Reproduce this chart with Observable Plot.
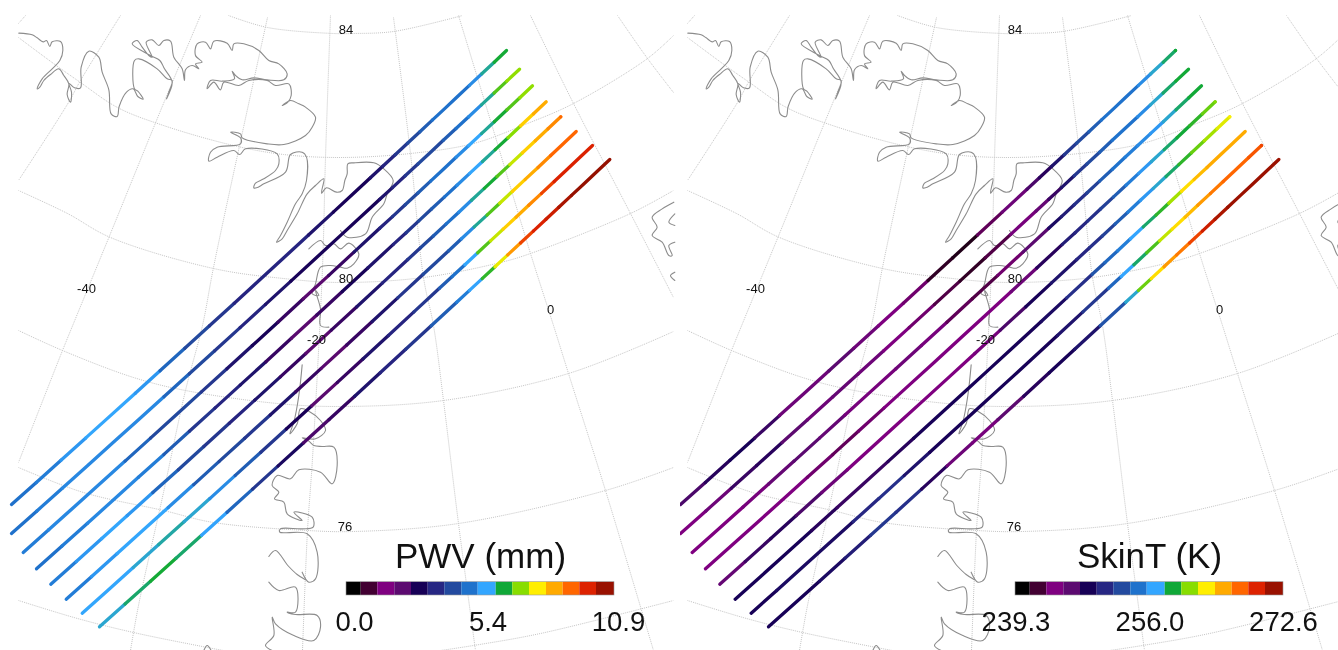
<!DOCTYPE html>
<html>
<head>
<meta charset="utf-8">
<script src="https://cdn.jsdelivr.net/npm/d3@7"></script>
<script src="https://cdn.jsdelivr.net/npm/@observablehq/plot@0.6"></script>
<style>
html,body{margin:0;padding:0;background:#fff;width:1338px;height:650px;overflow:hidden}
#chart{display:flex;width:1338px;height:650px}
#chart svg{display:block;flex:none;filter:blur(0.5px)}
</style>
</head>
<body>
<div id="chart"></div>
<script>
// colour bar
const palette = ["#000000","#420032","#7f0080","#5c0a70","#170056","#272783","#234a9f","#1f72cc","#33a6ff","#10a838","#88dd00","#ffee00","#ffaa00","#ff6600","#dd2200","#991100"];
const pwvRange = [0.0, 10.9];
const skinRange = [239.3, 272.6];

// flight tracks: positions in map units, south-west to north-east
const t1x = [11,35.8,60.5,85.3,110,134.8,159.5,184.3,209,233.8,258.5,283.3,308,332.8,357.5,369.9,382.3,394.7,407,419.4,431.8,444.2,456.5,468.9,481.3,493.7,506];
const t1y = [504,481.9,459.7,437.4,415.1,392.8,370.3,347.8,325.3,302.7,280,257.3,234.5,211.6,188.7,177.3,165.8,154.3,142.7,131.2,119.6,108.1,96.5,84.9,73.3,61.7,50];
const t2x = [11,36.4,61.8,87.2,112.6,138,163.4,188.8,214.2,239.6,265,290.4,315.8,341.2,366.6,379.3,392,404.7,417.4,430.1,442.8,455.5,468.2,480.9,493.6,506.3,519];
const t2y = [533,510.4,487.7,464.9,442,419.2,396.2,373.2,350.2,327.1,303.9,280.6,257.3,233.9,210.5,198.8,187.1,175.3,163.5,151.7,139.8,128,116.2,104.4,92.5,80.6,68.7];
const t3x = [22.7,48.2,73.6,99.1,124.6,150,175.5,200.9,226.4,251.9,277.4,302.8,328.3,353.7,379.2,392,404.7,417.4,430.1,442.9,455.6,468.3,481,493.8,506.5,519.3,532];
const t3y = [552,529.3,506.4,483.5,460.6,437.6,414.5,391.4,368.2,345,321.7,298.3,274.9,251.4,227.8,216.1,204.3,192.5,180.6,168.7,156.8,145,133.1,121.2,109.3,97.3,85.3];
const t4x = [36,61.5,87,112.5,137.9,163.4,188.9,214.4,239.9,265.4,290.9,316.3,341.8,367.3,392.8,405.6,418.3,431,443.8,456.5,469.2,482,494.7,507.5,520.2,533,545.7];
const t4y = [568.3,545.6,522.7,499.8,476.8,453.9,430.7,407.6,384.4,361.2,337.8,314.5,291,267.5,243.9,232.2,220.4,208.5,196.6,184.8,172.9,161,149.1,137.2,125.3,113.3,101.3];
const t5x = [50.3,75.8,101.3,126.8,152.3,177.8,203.3,228.8,254.3,279.8,305.3,330.8,356.3,381.8,407.3,420,432.8,445.5,458.3,471,483.8,496.5,509.3,522,534.8,547.5,560.3];
const t5y = [583.7,560.9,538.1,515.1,492.1,469.2,446,422.8,399.6,376.4,353,329.6,306.2,282.6,259,247.3,235.5,223.6,211.7,199.8,187.9,176,164.1,152.2,140.3,128.3,116.3];
const t6x = [65.7,91.2,116.7,142.2,167.7,193.2,218.7,244.2,269.7,295.2,320.7,346.2,371.7,397.2,422.7,435.5,448.2,461,473.7,486.5,499.2,512,524.7,537.5,550.2,563,575.7];
const t6y = [598.7,575.9,553,530,507.1,484.1,460.9,437.7,414.5,391.2,367.9,344.5,321,297.4,273.8,262,250.2,238.3,226.4,214.6,202.7,190.8,178.9,167,155,143,131];
const t7x = [81.7,107.2,132.7,158.2,183.8,209.3,234.8,260.3,285.8,311.3,336.9,362.4,387.9,413.4,438.9,451.7,464.4,477.2,490,502.7,515.5,528.2,541,553.7,566.5,579.2,592];
const t7y = [612.7,589.9,567,544,521.1,498.1,474.9,451.7,428.5,405.2,381.9,358.5,335,311.4,287.8,276,264.2,252.3,240.4,228.6,216.7,204.8,192.9,181,169,157,145];
const t8x = [99,124.5,150,175.5,201.1,226.6,252.1,277.6,303.1,328.6,354.2,379.7,405.2,430.7,456.2,469,481.7,494.5,507.2,520,532.8,545.5,558.3,571,583.8,596.5,609.3];
const t8y = [626.3,603.5,580.7,557.7,534.7,511.8,488.6,465.4,442.3,419,395.7,372.3,348.8,325.3,301.7,289.9,278.1,266.3,254.4,242.5,230.6,218.7,206.8,194.9,183,171,159];

// precipitable water vapour along each track (mm)
const t1pwv = [5.1,5.1,5.4,5.8,5.8,5.8,5.4,4.4,4.4,3.7,3.7,3.7,3.7,3.1,3.1,3.1,3.7,3.7,4.4,4.4,5.1,5.1,5.1,5.1,5.8,6.5,6.5];
const t2pwv = [5.1,5.1,5.4,5.4,5.4,5.4,5.4,4.4,4.4,3.7,3.7,3.1,3.1,3.1,3.1,3.1,3.7,3.7,4.4,4.4,4.4,5.1,5.1,5.8,6.5,7.2,7.2];
const t3pwv = [5.1,5.4,5.4,5.4,5.4,4.4,4.4,4.4,3.7,3.1,3.1,2.4,2.4,3.1,3.7,3.7,4.4,4.4,5.1,5.1,5.1,5.8,5.8,6.5,6.5,7.2,7.2];
const t4pwv = [5.1,5.1,5.4,5.4,5.4,5.1,4.4,3.7,3.7,3.1,2.4,2.4,3.1,3.1,3.7,3.7,4.4,4.4,5.1,5.1,5.8,5.8,6.5,6.5,7.8,8.5,8.5];
const t5pwv = [5.1,5.4,5.8,5.8,5.4,4.4,4.4,3.7,3.7,3.1,2.4,2.4,3.1,3.7,3.7,4.4,4.4,5.1,5.1,5.8,6.5,6.5,7.2,7.8,8.5,8.5,9.2];
const t6pwv = [5.1,5.4,5.8,5.8,5.8,5.1,4.4,4.4,3.7,3.1,2.4,2.4,3.1,3.7,4.4,4.4,4.4,5.1,5.8,6.5,7.2,7.8,8.5,8.5,9.2,9.2,9.2];
const t7pwv = [5.8,5.8,5.8,6.1,6.1,5.8,5.1,4.4,3.7,2.4,2.4,3.1,3.7,3.7,4.4,5.1,5.1,6.5,7.2,7.8,8.5,8.5,9.2,9.9,9.9,9.9,9.9];
const t8pwv = [5.8,6.1,6.5,6.5,6.1,5.4,4.4,3.7,2.7,2.4,3.1,3.7,3.7,4.4,5.1,5.4,6.1,7.2,8.2,9.2,9.9,9.9,10.2,10.6,10.6,10.6,10.6];

// skin temperature along each track (K)
const t1skin = [246.6,247.6,248.7,248.7,246.6,244.5,246.6,246.6,244.5,244.5,243.5,240.3,242.4,244.5,246.6,247.6,248.7,250.7,252.8,252.8,254.9,254.9,254.9,254.9,257,258,259.1];
const t2skin = [244.5,244.5,246.6,248.7,247.6,245.5,245.5,246.6,244.5,244.5,243.5,242.4,241.4,244.5,245.5,246.6,248.7,250.7,252.8,252.8,254.9,254.9,254.9,257,258,259.1,259.1];
const t3skin = [244.5,244.5,244.5,245.5,246.6,246.6,245.5,244.5,245.5,245.5,244.5,242.4,243.5,244.5,248.7,249.7,250.7,251.8,252.8,254.9,254.9,255.9,255.9,257,258,259.1,259.1];
const t4skin = [244.5,244.5,244.5,244.5,244.5,243.5,243.5,244.5,244.5,244.5,244.5,244.5,244.5,246.6,249.7,250.7,250.7,251.8,252.8,254.9,255.9,257,258,259.1,259.1,260.1,261.1];
const t5skin = [245.5,246.6,248.7,247.6,246.6,244.5,244.5,244.5,244.5,244.5,244.5,245.5,248.7,248.7,250.7,250.7,251.8,252.8,254.9,255.9,257,258,259.1,260.1,261.1,262.2,263.2];
const t6skin = [248.7,248.7,248.7,248.7,247.6,247.6,247.6,248.7,248.7,248.7,248.7,248.7,248.7,249.7,252.8,253.9,254.9,255.9,258,259.1,260.1,263.2,264.3,265.3,265.3,265.3,265.3];
const t7skin = [248.7,248.7,249.7,248.7,249.7,251.8,250.7,248.7,248.7,248.7,248.7,248.7,248.7,250.7,252.8,255.9,258,259.1,261.1,263.2,264.3,265.3,266.3,267.4,267.4,267.4,268.4];
const t8skin = [248.7,248.7,248.7,249.7,250.7,252.8,249.7,246.6,244.5,245.5,247.6,248.7,248.7,250.7,255.9,259.1,262.2,265.3,266.3,267.4,269.5,270.5,271.5,271.5,271.5,271.5,271.5];

// graticule, in map units
const parallels = [
  [[228,15],[267,27],[333,33],[353,33],[393,31],[462,15]],
  [[18,37],[53,63],[80,82],[117,107],[163,125],[233,145],[283,154],[340,157],[410,153],[473,143],[527,123],[573,103],[647,58],[673,35]],
  [[18,190],[67,213],[110,237],[213,268],[283,278],[340,282],[423,277],[500,262],[530,253],[630,213],[673,190]],
  [[18,330],[62,350],[133,377],[185,390],[277,403],[340,406],[443,400],[568,373],[673,331]],
  [[18,467],[83,492],[163,510],[213,522],[307,530],[353,531],[458,523],[605,490],[673,467]],
  [[18,600],[77,618],[133,632],[207,647],[250,655]],
  [[440,650],[473,645],[540,633],[673,600]]
];
const meridians = [
  [[25,15],[18,23]],
  [[120,15],[80,80],[68,102],[18,180]],
  [[200,15],[163,103],[110,233],[73,323],[62,350],[18,462]],
  [[267,17],[243,127],[213,267],[202,325],[185,390],[163,492],[138,605],[130,650]],
  [[330,15],[325,157],[322,267],[312,458],[307,530],[302,650]],
  [[393,17],[410,153],[423,277],[433,325],[443,400],[458,523],[475,650]],
  [[458,15],[493,130],[530,253],[553,325],[568,373],[605,490],[653,650]],
  [[530,15],[573,103],[630,213],[673,297]],
  [[617,15],[647,58],[673,92]]
];

// coastline, traced at three times map resolution
const coastA = [[55,98],[95,103],[110,112],[128,124],[138,120],[148,138],[155,124],[180,123],[187,150],[178,180],[155,205],[125,235],[110,265],[118,260],[130,240],[150,222],[175,205],[190,225],[205,250],[200,282],[210,305],[213,275],[205,248],[222,262],[240,262],[242,200],[265,152],[295,170],[305,215],[325,268],[332,340],[350,348],[356,318],[378,275],[398,265],[412,288],[428,296],[412,272],[402,265],[402,180],[415,175],[470,205],[500,235],[515,240],[505,275],[498,295],[515,245],[492,205],[478,180],[450,165],[395,130],[410,120],[425,140],[445,165],[455,170],[437,125],[455,118],[475,135],[490,120],[510,122],[520,170],[545,205],[552,240],[555,208],[575,195],[595,205],[585,190],[605,185],[585,165],[590,130],[615,125],[630,145],[640,122],[680,128],[695,150],[700,130],[730,130],[775,150],[805,180],[835,190],[860,220],[850,238],[800,238],[760,232],[725,238],[705,225],[695,212],[702,235],[665,242],[630,240],[620,265],[640,245],[660,268],[670,245],[715,255],[745,240],[800,240],[825,255],[865,250],[872,285],[862,305],[845,315],[870,300],[895,310],[915,320],[945,350],[935,380],[915,405],[850,432],[800,430],[725,412],[720,400],[690,395],[720,412],[720,430],[650,440],[630,455],[625,482],[650,470],[700,450],[718,462],[735,445],[830,460],[835,490],[825,510],[790,535],[765,548],[760,562],[768,562],[790,550],[855,515],[870,462],[905,455],[918,470],[918,540],[905,580],[885,610],[860,665],[840,705],[828,725],[845,715],[860,690],[890,640],[920,580],[945,555],[970,535],[963,578],[978,562],[1008,575],[1025,570],[1033,540],[1040,520],[1042,490],[1060,487],[1120,487],[1150,505],[1178,540],[1160,580],[1150,610],[1115,650],[1095,700],[1040,710],[1020,690]];
const coastB = [[925,745],[960,720],[975,735],[1000,730],[1020,745],[1045,728],[1075,760],[1060,790],[1040,803],[1020,800],[990,795],[960,800],[945,850],[935,880],[955,885],[945,870],[960,925],[960,975],[985,980]];
const coastC = [[905,1093],[895,1185],[880,1265],[868,1300],[890,1270],[900,1225],[925,1232],[960,1260],[975,1290],[945,1315],[905,1312],[925,1322],[940,1335],[965,1338],[1000,1340],[1010,1395],[995,1450],[960,1415],[895,1408],[870,1435],[830,1425],[815,1455],[835,1475],[822,1495],[850,1505],[860,1540],[905,1560],[880,1535],[935,1550],[938,1580],[905,1585],[840,1585],[838,1595],[920,1600],[950,1655],[945,1735],[925,1745],[905,1715]];
const coastD = [[805,1668],[825,1650],[862,1695],[890,1722],[915,1738]];
const coastE = [[805,1745],[835,1770],[885,1760],[885,1835],[860,1835],[885,1842],[950,1845],[960,1880],[940,1920],[880,1905],[825,1870],[815,1850],[820,1905],[795,1935],[815,1950]];
const coastF = [[2020,605],[1985,625],[1955,650],[1970,680],[1955,705],[1985,725],[2005,765],[2015,765],[2005,735],[2023,725]];
const coastG = [[2023,640],[2005,665],[2023,675]];
const coastH = [[2023,815],[2010,825],[2023,840]];
const coastI = [[610,1950],[620,1935],[632,1950]];

// graticule labels
const gridLabels = ["84","80","76","-40","-20","0"];
const gridLabelX = [345.5,345.5,344.5,86,316,550];
const gridLabelY = [29,278,526,288,339,309];

// colour bar layout, map units
const barEdges = [346,360.7,377.3,394.3,411,427.7,444.3,461.3,477.7,495.7,512.3,529,546,562.7,579.3,596,614];

const tracks = [
  [t1x,t1y,t1pwv,t1skin],[t2x,t2y,t2pwv,t2skin],[t3x,t3y,t3pwv,t3skin],[t4x,t4y,t4pwv,t4skin],
  [t5x,t5y,t5pwv,t5skin],[t6x,t6y,t6pwv,t6skin],[t7x,t7y,t7pwv,t7skin],[t8x,t8y,t8pwv,t8skin]
];
// each drawn segment takes the colour of the mean of its two end readings
const segmentValue = (v,i) => i < v.length-1 ? (v[i]+v[i+1])/2 : v[i];
const trackRows = tracks.flatMap(([xs,ys,p,s],id) => xs.map((x,i) => ({id,x,y:ys[i],pwv:segmentValue(p,i),skin:segmentValue(s,i)})));
const toRows = (lines,k) => lines.flatMap((l,id) => l.map(([x,y]) => ({id,x:x/k,y:y/k})));
const gridRows = toRows([...parallels,...meridians],1);
const coastRows = toRows([coastA,coastB,coastC,coastD,coastE,coastF,coastG,coastH,coastI],3);
const gridLabelRows = gridLabels.map((t,i) => ({t,x:gridLabelX[i],y:gridLabelY[i]}));

function panel({field,range,title,ticks,tickX,xDomain,width}){
  const [lo,hi] = range;
  const n = palette.length;
  const centers = palette.map((_,i) => lo+(hi-lo)*(i+0.5)/n);
  const bins = palette.map((_,i) => ({v:centers[i],x1:barEdges[i],x2:barEdges[i+1]}));
  return Plot.plot({
    width,height:650,margin:0,
    style:{fontFamily:"'Liberation Sans',Arial,sans-serif",background:"#fff",color:"#111"},
    x:{domain:xDomain,range:[0,width],axis:null},
    y:{domain:[0,650],range:[0,650],axis:null},
    color:{type:"linear",domain:centers,range:palette,interpolate:"rgb"},
    marks:[
      Plot.line(gridRows,{x:"x",y:"y",z:"id",stroke:"#c6c6c6",strokeWidth:1,strokeDasharray:"1,1",strokeLinecap:"butt",curve:"catmull-rom",clip:"frame"}),
      Plot.line(coastRows,{x:"x",y:"y",z:"id",stroke:"#8c8c8c",strokeWidth:1.1,curve:"catmull-rom",clip:"frame"}),
      Plot.line(trackRows,{x:"x",y:"y",z:"id",stroke:field,strokeWidth:3.3,strokeLinecap:"round",clip:"frame"}),
      Plot.text(gridLabelRows,{x:"x",y:"y",text:"t",fontSize:13,textAnchor:"middle",fill:"#111"}),
      Plot.rect(bins,{x1:"x1",x2:"x2",y1:581.7,y2:595,fill:"v"}),
      Plot.rect([0],{x1:barEdges[0],x2:barEdges[n],y1:581.7,y2:595,fill:"none",stroke:"#999",strokeWidth:0.6}),
      Plot.text([title],{x:480,y:556,text:d=>d,fontSize:35,textAnchor:"middle",fill:"#111"}),
      Plot.text(ticks,{x:(_,i)=>tickX[i],y:621.4,text:d=>d,fontSize:27.5,textAnchor:"middle",fill:"#111"})
    ]
  });
}

const chart = document.getElementById("chart");
chart.append(panel({field:"pwv",range:pwvRange,title:"PWV (mm)",ticks:["0.0","5.4","10.9"],tickX:[354,487.5,618],xDomain:[0,680],width:680}));
chart.append(panel({field:"skin",range:skinRange,title:"SkinT (K)",ticks:["239.3","256.0","272.6"],tickX:[346.5,480.5,614],xDomain:[11,669],width:658}));
</script>
</body>
</html>
